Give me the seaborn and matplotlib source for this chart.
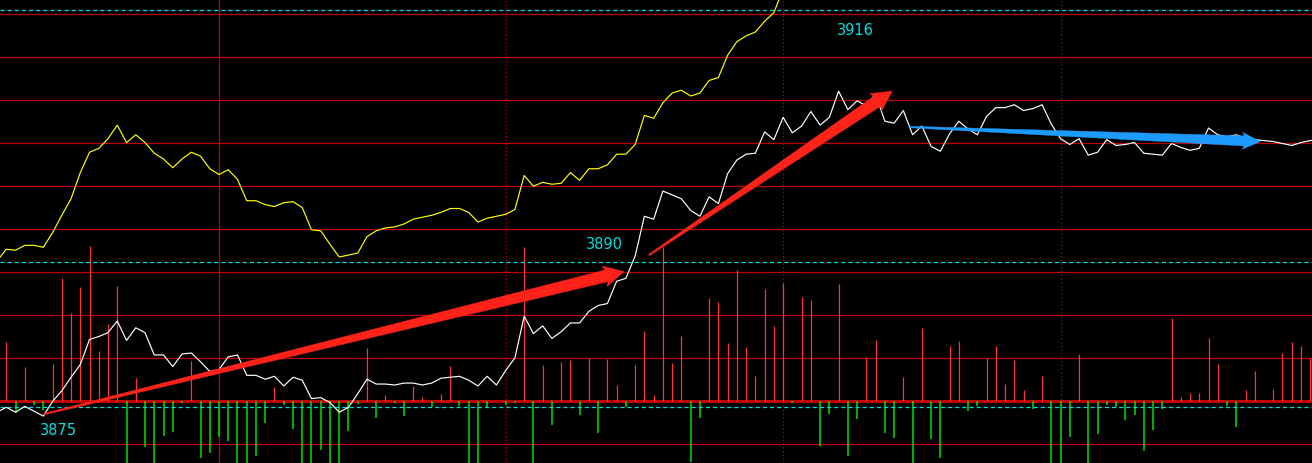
import numpy as np
import pandas as pd
import matplotlib
matplotlib.use("Agg")
import matplotlib.pyplot as plt
import seaborn as sns
from matplotlib.patches import Polygon

# ---------------- data (index -1 .. 142, one point per minute bar) ----------------
price = [3874.5, 3875.0, 3874.5, 3875.1, 3874.6, 3874.1, 3875.6, 3876.7, 3878.1, 3879.4,
         3882.0, 3882.3, 3882.7, 3883.9, 3881.9, 3883.2, 3882.7, 3880.4, 3880.4, 3879.2,
         3880.5, 3880.6, 3879.7, 3878.7, 3878.9, 3880.2, 3880.4, 3878.3, 3878.3, 3877.9,
         3878.2, 3877.2, 3878.1, 3877.8, 3875.9, 3876.0, 3875.5, 3874.5, 3875.0, 3876.4,
         3877.9, 3877.4, 3877.4, 3877.3, 3877.5, 3877.5, 3877.3, 3877.5, 3878.0, 3878.1,
         3878.2, 3877.8, 3877.2, 3878.2, 3877.3, 3878.8, 3880.1, 3884.4, 3882.6, 3883.4,
         3882.1, 3882.8, 3883.7, 3883.7, 3884.9, 3885.5, 3885.7, 3888.0, 3888.3, 3890.6,
         3894.7, 3894.4, 3897.3, 3896.9, 3896.5, 3895.3, 3894.7, 3896.7, 3896.0, 3899.1,
         3900.5, 3901.1, 3901.2, 3903.4, 3902.6, 3904.9, 3903.3, 3904.0, 3905.5, 3904.1,
         3904.9, 3907.6, 3905.7, 3906.6, 3906.1, 3907.3, 3904.5, 3904.3, 3905.6, 3903.1,
         3904.0, 3901.9, 3901.4, 3903.2, 3904.5, 3903.7, 3903.1, 3905.0, 3905.9, 3905.9,
         3906.2, 3905.6, 3905.8, 3906.2, 3904.2, 3902.7, 3902.1, 3902.7, 3901.0, 3901.3,
         3902.6, 3902.0, 3902.1, 3902.3, 3901.2, 3901.1, 3901.0, 3902.2, 3901.8, 3901.5,
         3901.7, 3903.8, 3903.1, 3902.9, 3903.1, 3902.7, 3902.6, 3902.5, 3902.4, 3902.2,
         3902.0, 3902.3, 3902.5, 3902.6]

yellow = [3890.1, 3891.3, 3891.2, 3891.7, 3891.7, 3891.5, 3893.0, 3894.8, 3896.5, 3899.2,
          3901.3, 3901.7, 3902.7, 3904.1, 3902.3, 3903.1, 3902.3, 3901.2, 3900.6, 3899.7,
          3900.6, 3901.3, 3900.9, 3899.6, 3899.0, 3899.5, 3898.5, 3896.3, 3896.3, 3895.9,
          3895.7, 3896.1, 3896.2, 3895.6, 3893.3, 3893.2, 3891.8, 3890.5, 3890.7, 3890.9,
          3892.6, 3893.2, 3893.5, 3893.6, 3893.9, 3894.4, 3894.6, 3894.8, 3895.1, 3895.5,
          3895.5, 3895.1, 3894.1, 3894.5, 3894.7, 3894.9, 3895.4, 3898.9, 3897.8, 3898.2,
          3898.0, 3898.1, 3899.2, 3898.4, 3899.6, 3899.6, 3900.0, 3901.1, 3901.1, 3902.1,
          3905.1, 3904.8, 3906.4, 3907.4, 3907.7, 3907.1, 3907.4, 3908.7, 3909.0, 3911.3,
          3912.7, 3913.3, 3913.7, 3914.8, 3915.7, 3918.1]

volume = [0,
          59, -12, 34, -4, -9, 37, 123, 88, 114, 155,
          50, 77, 115, -70, 23, -46, -70, -35, -31, -2,
          40, -57, -52, -36, -40, -70, -70, -55, -22, 14,
          -4, -28, -70, -70, -49, -70, -70, -30, -3, 53,
          -17, 6, -2, -15, 15, 4, -6, 7, 35, -5,
          -70, -70, -7, 0, -4, -2, 154, -70, 36, -24,
          39, 41, -14, 43, -32, 42, 16, -6, 36, 70,
          6, 154, 38, 65, -61, -17, 103, 99, 58, 131,
          54, 25, 112, 75, 118, -2, 104, 101, -45, -13,
          117, -55, -18, 44, 61, -32, -37, 24, -70, 73,
          -38, -57, 55, 60, -10, -5, 43, 55, 17, 41,
          11, -8, 25, -70, -70, -36, 47, -70, -33, -4,
          -6, -19, -14, -50, -29, -8, 83, 4, 8, 8,
          63, 37, -5, -26, 11, 30, 0, 12, 48, 59,
          55, 43,
          0]

price_levels = [3916, 3890, 3875]
label_x = [91.8, 64.7, 5.6]
label_y = [3914.0, 3891.9, 3872.7]

session_line = [23]
time_lines = [54, 84, 114]

# arrows: (tail x, tail y, tip x, tip y) in (index, price)
arrows_red = [(4.1, 3874.3, 66.8, 3889.0),
              (69.5, 3890.7, 95.8, 3907.6)]
arrows_blue = [(97.7, 3903.9, 135.6, 3902.4)]

# ---------------- figure ----------------
fig = plt.figure(figsize=(13.12, 4.64), dpi=100, facecolor="black")
ax_v = fig.add_axes([0, 0, 1, 1])
ax_v.set_facecolor("black")
ax_p = ax_v.twinx()

ax_v.set_xlim(-0.681, 141.19)
ax_v.set_ylim(-62.3, 401.7)
ax_p.set_ylim(3869.26, 3917.10)

grid_red = "#BE0000"
for m in range(-1, 10):
    ax_v.axhline(43 * m, color=grid_red, lw=2.2 if m == 0 else 0.9, zorder=1)
for xv in session_line:
    ax_v.axvline(xv, color="#C80000", lw=0.9, zorder=1)
for xv in time_lines:
    ax_v.axvline(xv, color="#C80000", lw=0.9, ls=(0, (1, 2)), zorder=1)

vx = np.arange(-1, -1 + len(volume))
vol = np.array(volume, dtype=float)
up = vol > 0
dn = vol < 0
ax_v.vlines(vx[up], 0, vol[up], color="#FF3636", lw=0.9, zorder=2)
ax_v.vlines(vx[dn], 0, vol[dn], color="#00E000", lw=1.1, zorder=2)

for lv in price_levels:
    ax_p.axhline(lv, color="#00E0E0", lw=0.9, ls=(0, (3.3, 2.4)), zorder=2)

df_price = pd.DataFrame({"t": np.arange(-1, -1 + len(price)), "v": price})
df_yel = pd.DataFrame({"t": np.arange(-1, -1 + len(yellow)), "v": yellow})
sns.lineplot(data=df_yel, x="t", y="v", ax=ax_p, color="#FFFF00", lw=0.85,
             estimator=None, sort=False, zorder=3)
sns.lineplot(data=df_price, x="t", y="v", ax=ax_p, color="white", lw=0.85,
             estimator=None, sort=False, zorder=4)


def tapered_arrow(ax, tail, tip, color, tail_w, shaft_w, head_w, head_len):
    to_disp = ax.transData
    p0 = np.array(to_disp.transform(tail))
    p1 = np.array(to_disp.transform(tip))
    d = p1 - p0
    L = np.hypot(*d)
    u = d / L
    n = np.array([-u[1], u[0]])
    base = p1 - u * head_len
    pts = [p0 + n * tail_w / 2, base + n * shaft_w / 2, base + n * head_w / 2 - u * 2,
           p1, base - n * head_w / 2 - u * 2, base - n * shaft_w / 2, p0 - n * tail_w / 2]
    data_pts = to_disp.inverted().transform(np.array(pts))
    ax.add_patch(Polygon(data_pts, closed=True, facecolor=color, edgecolor=color,
                         lw=0.3, zorder=5))


for (x0, y0, x1, y1) in arrows_red:
    tapered_arrow(ax_p, (x0, y0), (x1, y1), "#FF2218", 1.5, 12, 21, 18)
for (x0, y0, x1, y1) in arrows_blue:
    tapered_arrow(ax_p, (x0, y0), (x1, y1), "#1E9BFF", 1.5, 10, 17, 16)

for lv, lx, ly in zip(price_levels, label_x, label_y):
    ax_p.text(lx, ly, str(lv), color="#00E0E0", fontsize=10.5, ha="center", va="center",
              family="DejaVu Sans", zorder=6)

ax_v.set_axis_off()
ax_p.set_axis_off()
fig.savefig("out.png", dpi=100, facecolor="black")
